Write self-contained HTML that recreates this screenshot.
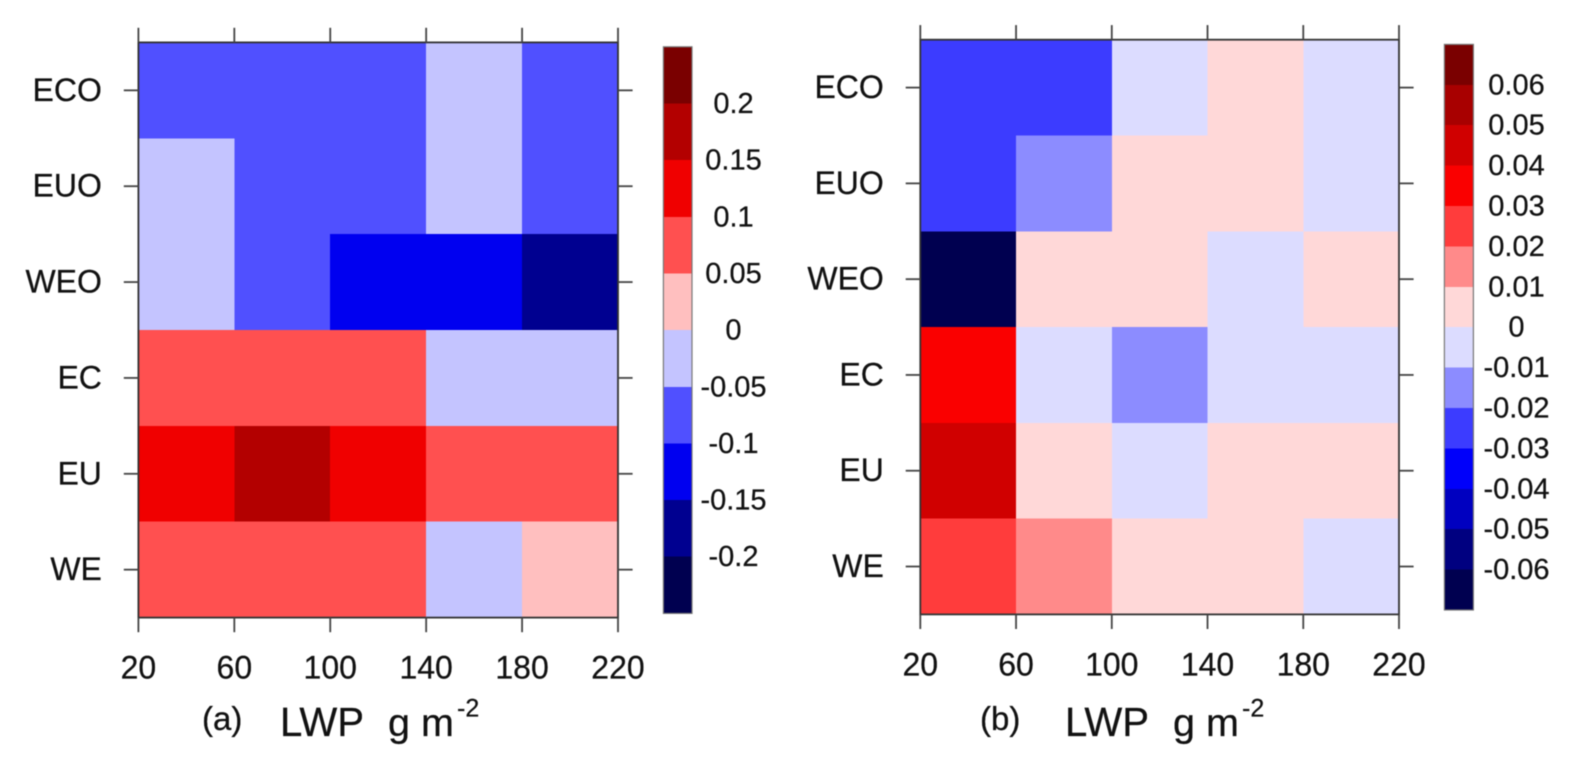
<!DOCTYPE html>
<html lang="en">
<head>
<meta charset="utf-8">
<title>LWP heatmaps</title>
<style>
html,body{margin:0;padding:0;background:#fff;}
svg{display:block;filter:blur(0.4px);}
text{font-family:"Liberation Sans",sans-serif;fill:#111;stroke:#111;stroke-width:0.25px;}
</style>
</head>
<body>
<svg id="chart" xmlns="http://www.w3.org/2000/svg" width="1571" height="770" viewBox="0 0 1571 770"></svg>
<script>
const categories = ['ECO', 'EUO', 'WEO', 'EC', 'EU', 'WE'];
const xTicks = [20, 60, 100, 140, 180, 220];

const levelsA = [-0.2, -0.15, -0.1, -0.05, 0, 0.05, 0.1, 0.15, 0.2];
const levelLabelsA = ['-0.2', '-0.15', '-0.1', '-0.05', '0', '0.05', '0.1', '0.15', '0.2'];
const valuesAEco = [-0.07, -0.07, -0.07, -0.03, -0.07];
const valuesAEuo = [-0.03, -0.07, -0.07, -0.03, -0.07];
const valuesAWeo = [-0.03, -0.07, -0.12, -0.12, -0.17];
const valuesAEc = [0.07, 0.07, 0.07, -0.03, -0.03];
const valuesAEu = [0.12, 0.17, 0.12, 0.07, 0.07];
const valuesAWe = [0.07, 0.07, 0.07, -0.03, 0.03];

const levelsB = [-0.06, -0.05, -0.04, -0.03, -0.02, -0.01, 0, 0.01, 0.02, 0.03, 0.04, 0.05, 0.06];
const levelLabelsB = ['-0.06', '-0.05', '-0.04', '-0.03', '-0.02', '-0.01', '0', '0.01', '0.02', '0.03', '0.04', '0.05', '0.06'];
const valuesBEco = [-0.025, -0.025, -0.005, 0.005, -0.005];
const valuesBEuo = [-0.025, -0.015, 0.005, 0.005, -0.005];
const valuesBWeo = [-0.065, 0.005, 0.005, -0.005, 0.005];
const valuesBEc = [0.035, -0.005, -0.015, -0.005, -0.005];
const valuesBEu = [0.045, 0.005, -0.005, 0.005, 0.005];
const valuesBWe = [0.025, 0.015, 0.005, 0.005, -0.005];

const coloursA = ['#000050', '#000090', '#0000f0', '#5050ff', '#c4c4ff', '#ffbfbf', '#ff5050', '#f00000', '#b30000', '#7a0000'];
const coloursB = ['#000050', '#000080', '#0000c0', '#0000fa', '#3c3cff', '#8c8cff', '#dcdcff', '#ffd8d8', '#ff8a8a', '#ff3c3c', '#fa0000', '#d00000', '#a80000', '#7a0000'];

const NS = 'http://www.w3.org/2000/svg';
const root = document.getElementById('chart');

function make(parent, tag, attrs, content) {
  const el = document.createElementNS(NS, tag);
  for (const k in attrs) el.setAttribute(k, attrs[k]);
  if (content !== undefined) el.textContent = content;
  parent.appendChild(el);
  return el;
}

function colourFor(value, levels, colours) {
  let i = 0;
  while (i < levels.length && value >= levels[i]) i++;
  return colours[i];
}

function drawPanel(id, rows, levels, levelLabels, colours, g) {
  const panel = make(root, 'g', {});
  
  

  const xMin = xTicks[0];
  const xMax = xTicks[xTicks.length - 1];
  const xScale = v => g.left + (v - xMin) / (xMax - xMin) * (g.right - g.left);
  const rowStep = (g.bottom - g.top) / categories.length;
  const yScale = i => g.top + i * rowStep;

  rows.forEach((row, r) => {
    row.forEach((value, c) => {
      const x0 = xScale(xTicks[c]);
      const x1 = xScale(xTicks[c + 1]);
      const cell = make(panel, 'rect', {
        x: x0, y: yScale(r), width: x1 - x0, height: rowStep,
        fill: colourFor(value, levels, colours), 'shape-rendering': 'crispEdges'
      });
      
      
    });
  });

  const frame = make(panel, 'rect', {
    x: g.left, y: g.top, width: g.right - g.left, height: g.bottom - g.top,
    fill: 'none', stroke: '#333', 'stroke-width': 1.8
  });
  
  

  xTicks.forEach(t => {
    const x = xScale(t);
    const top = make(panel, 'line', { x1: x, x2: x, y1: g.top, y2: g.top - 14.6, stroke: '#444', 'stroke-width': 1.8 });
    
    
    const bottom = make(panel, 'line', { x1: x, x2: x, y1: g.bottom, y2: g.bottom + 14.6, stroke: '#444', 'stroke-width': 1.8 });
    
    
    const label = make(panel, 'text', { x: x, y: g.bottom + 61, 'font-size': 32, 'text-anchor': 'middle' }, String(t));
    
    
  });

  categories.forEach((name, i) => {
    const y = yScale(i) + rowStep / 2;
    const left = make(panel, 'line', { x1: g.left, x2: g.left - 14.6, y1: y, y2: y, stroke: '#444', 'stroke-width': 1.8 });
    
    
    const right = make(panel, 'line', { x1: g.right, x2: g.right + 14.6, y1: y, y2: y, stroke: '#444', 'stroke-width': 1.8 });
    
    
    const label = make(panel, 'text', { x: g.left - 36.5, y: y + 10.5, 'font-size': 32, 'text-anchor': 'end' }, name);
    
    
  });

  const bar = make(panel, 'g', {});
  
  
  const boxH = (g.cbBottom - g.cbTop) / colours.length;
  const boxY = i => g.cbBottom - i * boxH;
  colours.forEach((colour, i) => {
    const box = make(bar, 'rect', {
      x: g.cbLeft, y: boxY(i + 1), width: g.cbRight - g.cbLeft, height: boxH,
      fill: colour, 'shape-rendering': 'crispEdges'
    });
    
    
  });
  const barFrame = make(bar, 'rect', {
    x: g.cbLeft, y: g.cbTop, width: g.cbRight - g.cbLeft, height: g.cbBottom - g.cbTop,
    fill: 'none', stroke: '#777', 'stroke-width': 1.2
  });
  
  
  levelLabels.forEach((text, i) => {
    const label = make(bar, 'text', {
      x: g.cbLabelX, y: boxY(i + 1) + 9.5, 'font-size': 29, 'text-anchor': 'middle'
    }, text);
    
    
  });

  const tag = make(panel, 'text', { x: g.tagX, y: 730, 'font-size': 33 }, '(' + id + ')');
  
  
  const lwp = make(panel, 'text', { x: g.titleX, y: 736, 'font-size': 41, textLength: 84, lengthAdjust: 'spacingAndGlyphs' }, 'LWP');
  
  
  const unit = make(panel, 'text', { x: g.titleX + 108, y: 736, 'font-size': 39, textLength: 66, lengthAdjust: 'spacingAndGlyphs' }, 'g m');
  
  
  const exp = make(panel, 'text', { x: g.titleX + 177, y: 716.5, 'font-size': 25 }, '-2');
  
  
}

drawPanel('a',
  [valuesAEco, valuesAEuo, valuesAWeo, valuesAEc, valuesAEu, valuesAWe],
  levelsA, levelLabelsA, coloursA,
  { left: 138.4, right: 618, top: 42.4, bottom: 617.6,
    cbLeft: 663.4, cbRight: 692, cbTop: 46.8, cbBottom: 613.4, cbLabelX: 733.5,
    tagX: 202, titleX: 280 });

drawPanel('b',
  [valuesBEco, valuesBEuo, valuesBWeo, valuesBEc, valuesBEu, valuesBWe],
  levelsB, levelLabelsB, coloursB,
  { left: 920.3, right: 1399, top: 39.7, bottom: 614.4,
    cbLeft: 1444.4, cbRight: 1473.4, cbTop: 44.4, cbBottom: 610, cbLabelX: 1516.5,
    tagX: 980, titleX: 1065 });
</script>
</body>
</html>
